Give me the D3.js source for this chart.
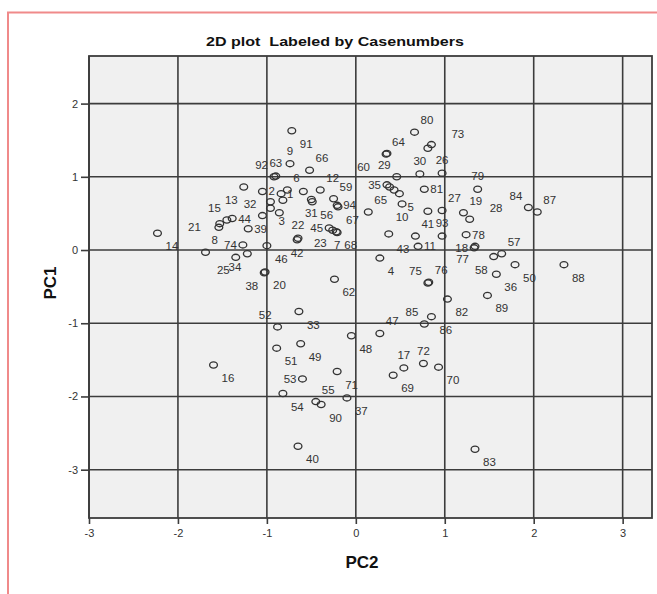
<!doctype html>
<html>
  <head>
    <meta charset="utf-8">
    <title>2D plot Labeled by Casenumbers</title>
    <script src="https://cdnjs.cloudflare.com/ajax/libs/d3/7.8.5/d3.min.js"></script>
    <style>
      body { margin: 0; background: #fff; }
      svg text { font-family: Arial, "Liberation Sans", sans-serif; }
    </style>
  </head>
  <body>
    <div id="my-svg-chart"></div>

    <script>
      // case numbers and their scores (PC2 on x, PC1 on y)
      const cases = [14, 8, 21, 24, 15, 44, 25, 74, 13, 34, 39, 2, 32, 46, 20, 38, 61, 3, 63, 92,
        95, 1, 96, 6, 9, 91, 22, 42, 97, 66, 31, 56, 12, 59, 67, 94, 45, 23, 7, 68,
        62, 52, 51, 16, 33, 49, 53, 54, 71, 55, 90, 37, 40, 48, 47, 4, 65, 35, 98, 99,
        5, 10, 29, 60, 64, 80, 73, 100, 30, 26, 81, 41, 27, 101, 43, 11, 93, 19, 28, 79,
        78, 77, 18, 84, 87, 57, 58, 50, 88, 36, 75, 76, 82, 89, 85, 86, 17, 72, 70, 69, 83];

      const pc2 = [-2.23, -1.69, -1.54, -1.53, -1.45, -1.39, -1.35, -1.27, -1.26, -1.22, -1.21, -1.05, -1.05, -1.00, -1.02, -1.03, -0.96, -0.96, -0.90, -0.92,
        -0.86, -0.84, -0.82, -0.77, -0.74, -0.72, -0.65, -0.66, -0.59, -0.52, -0.50, -0.49, -0.40, -0.25, -0.20, -0.21, -0.30, -0.26, -0.21, -0.22,
        -0.24, -0.88, -0.89, -1.60, -0.64, -0.62, -0.60, -0.82, -0.21, -0.45, -0.39, -0.10, -0.65, -0.05, 0.27, 0.27, 0.14, 0.35, 0.38, 0.43,
        0.49, 0.52, 0.46, 0.35, 0.34, 0.66, 0.85, 0.81, 0.72, 0.97, 0.77, 0.81, 0.97, 0.37, 0.67, 0.70, 0.97, 1.21, 1.28, 1.37,
        1.24, 1.34, 1.33, 1.94, 2.04, 1.64, 1.55, 1.79, 2.34, 1.58, 0.81, 0.82, 1.03, 1.48, 0.77, 0.85, 0.54, 0.76, 0.93, 0.42, 1.34];

      const pc1 = [0.23, -0.03, 0.31, 0.36, 0.41, 0.43, -0.10, 0.07, 0.86, -0.05, 0.29, 0.80, 0.47, 0.06, -0.30, -0.31, 0.66, 0.57, 1.01, 1.00,
        0.51, 0.77, 0.68, 0.82, 1.18, 1.63, 0.16, 0.14, 0.80, 1.09, 0.69, 0.66, 0.82, 0.70, 0.59, 0.61, 0.30, 0.27, 0.24, 0.25,
        -0.40, -1.05, -1.34, -1.57, -0.84, -1.28, -1.76, -1.96, -1.66, -2.07, -2.11, -2.02, -2.68, -1.17, -1.14, -0.11, 0.52, 0.89, 0.86, 0.82,
        0.77, 0.63, 1.00, 1.32, 1.31, 1.61, 1.44, 1.39, 1.04, 1.05, 0.83, 0.53, 0.54, 0.22, 0.19, 0.05, 0.19, 0.51, 0.42, 0.83,
        0.21, 0.05, 0.03, 0.58, 0.52, -0.05, -0.09, -0.20, -0.20, -0.33, -0.45, -0.44, -0.67, -0.62, -1.01, -0.91, -1.61, -1.55, -1.60, -1.71, -2.72];

      // which side of its point each case label sits on ("none" = hidden behind others)
      const labelSide = ['se', 'ne', 'far-w', 'none', 'nw', 'e', 'sw', 'w', 'sw', 'sw', 'e', 'e', 'nw', 'se', 'se', 'sw', 'none', 'se', 'n', 'nw',
        'none', 'e', 'none', 'ne', 'n', 'se', 'n', 's', 'none', 'ne', 's', 'se', 'ne', 'ne', 'se', 'e', 'w', 'sw', 's', 'se',
        'se', 'nw', 'se', 'se', 'se', 'se', 'w', 'se', 'se', 'ne', 'se', 'se', 'se', 'se', 'ne', 'se', 'ne', 'w', 'none', 'none',
        'se', 's', 'nw', 'far-sw', 'ne', 'ne', 'far-ne', 'none', 'n', 'n', 'e', 's', 'ne', 'none', 'sw', 'e', 'n', 'ne', 'far-ne', 'n',
        'e', 'sw', 'w', 'nw', 'ne', 'ne', 'sw', 'se', 'se', 'se', 'nw', 'ne', 'se', 'se', 'nw', 'se', 'n', 'n', 'se', 'se', 'se'];

      const xTicks = [-3, -2, -1, 0, 1, 2, 3];
      const yTicks = [-3, -2, -1, 0, 1, 2];

      const data = cases.map((c, i) => ({ id: c, pc2: pc2[i], pc1: pc1[i], side: labelSide[i] }));

      const width = 657, height = 594;
      const plot = { left: 89, right: 652, top: 56, bottom: 518 };

      const svg = d3.select('#my-svg-chart')
        .append('svg')
        .attr('width', width)
        .attr('height', height);

      svg.append('rect').attr('width', width).attr('height', height).attr('fill', '#fff');

      // pinkish frame of the output window
      svg.append('path')
        .attr('d', `M8,${height} V12.5 H${width}`)
        .attr('fill', 'none')
        .attr('stroke', '#f08a8a')
        .attr('stroke-width', 2);

      const x = d3.scaleLinear().domain([-3, 3.33]).range([plot.left, plot.right]);
      const y = d3.scaleLinear().domain([-3.66, 2.65]).range([plot.bottom, plot.top]);

      // plot background
      svg.append('rect')
        .attr('x', plot.left).attr('y', plot.top)
        .attr('width', plot.right - plot.left).attr('height', plot.bottom - plot.top)
        .attr('fill', '#f0f0f0');

      // grid
      const grid = svg.append('g').attr('stroke', '#3c3c3c').attr('stroke-width', 1.6);
      grid.selectAll('.vx').data(xTicks).join('line')
        .attr('class', 'vx')
        .attr('x1', d => x(d)).attr('x2', d => x(d))
        .attr('y1', plot.top).attr('y2', plot.bottom);
      grid.selectAll('.hy').data(yTicks).join('line')
        .attr('class', 'hy')
        .attr('x1', plot.left).attr('x2', plot.right)
        .attr('y1', d => y(d)).attr('y2', d => y(d));

      // axes
      const xAxis = svg.append('g')
        .attr('transform', `translate(0,${plot.bottom})`)
        .call(d3.axisBottom(x).tickValues(xTicks).tickSize(6).tickPadding(5).tickFormat(d => String(d)));
      const yAxis = svg.append('g')
        .attr('transform', `translate(${plot.left},0)`)
        .call(d3.axisLeft(y).tickValues(yTicks).tickSize(8).tickPadding(3).tickFormat(d => String(d)));

      [xAxis, yAxis].forEach(a => {
        a.select('.domain').remove();
        a.selectAll('line').attr('stroke', '#3c3c3c').attr('stroke-width', 1.6);
        a.selectAll('text').attr('fill', '#333').style('font-size', '11px');
      });

      // plot border
      svg.append('rect')
        .attr('x', plot.left).attr('y', plot.top)
        .attr('width', plot.right - plot.left).attr('height', plot.bottom - plot.top)
        .attr('fill', 'none')
        .attr('stroke', '#3c3c3c')
        .attr('stroke-width', 1.8);

      // points
      svg.append('g').selectAll('ellipse')
        .data(data)
        .join('ellipse')
        .attr('cx', d => x(d.pc2))
        .attr('cy', d => y(d.pc1))
        .attr('rx', 3.9)
        .attr('ry', 3.1)
        .attr('fill', 'none')
        .attr('stroke', '#333')
        .attr('stroke-width', 1.3);

      // case labels, offset from the point by side
      const place = {
        se: [8, 17, 'start'], ne: [6, -8, 'start'], e: [6, 4, 'start'],
        s: [0, 17, 'middle'], n: [0, -9, 'middle'],
        sw: [-6, 17, 'end'], nw: [-6, -8, 'end'], w: [-6, 4, 'end'],
        'far-ne': [20, -7, 'start'], 'far-w': [-18, 4, 'end'], 'far-sw': [-17, 18, 'end']
      };

      svg.append('g').selectAll('text')
        .data(data.filter(d => d.side !== 'none'))
        .join('text')
        .attr('x', d => x(d.pc2) + place[d.side][0])
        .attr('y', d => y(d.pc1) + place[d.side][1])
        .attr('text-anchor', d => place[d.side][2])
        .attr('fill', '#333')
        .style('font-size', '11.5px')
        .text(d => d.id);

      // titles
      svg.append('text')
        .attr('x', 335).attr('y', 46)
        .attr('text-anchor', 'middle')
        .attr('textLength', 258)
        .attr('lengthAdjust', 'spacingAndGlyphs')
        .style('white-space', 'pre')
        .style('font-size', '13px')
        .style('font-weight', 'bold')
        .attr('fill', '#111')
        .text('2D plot\u00a0 Labeled by Casenumbers');

      svg.append('text')
        .attr('x', 362).attr('y', 568)
        .attr('text-anchor', 'middle')
        .style('font-size', '17px')
        .style('font-weight', 'bold')
        .attr('fill', '#111')
        .text('PC2');

      svg.append('text')
        .attr('transform', 'translate(56,283) rotate(-90)')
        .attr('text-anchor', 'middle')
        .style('font-size', '17px')
        .style('font-weight', 'bold')
        .attr('fill', '#111')
        .text('PC1');
    </script>
  </body>
</html>
